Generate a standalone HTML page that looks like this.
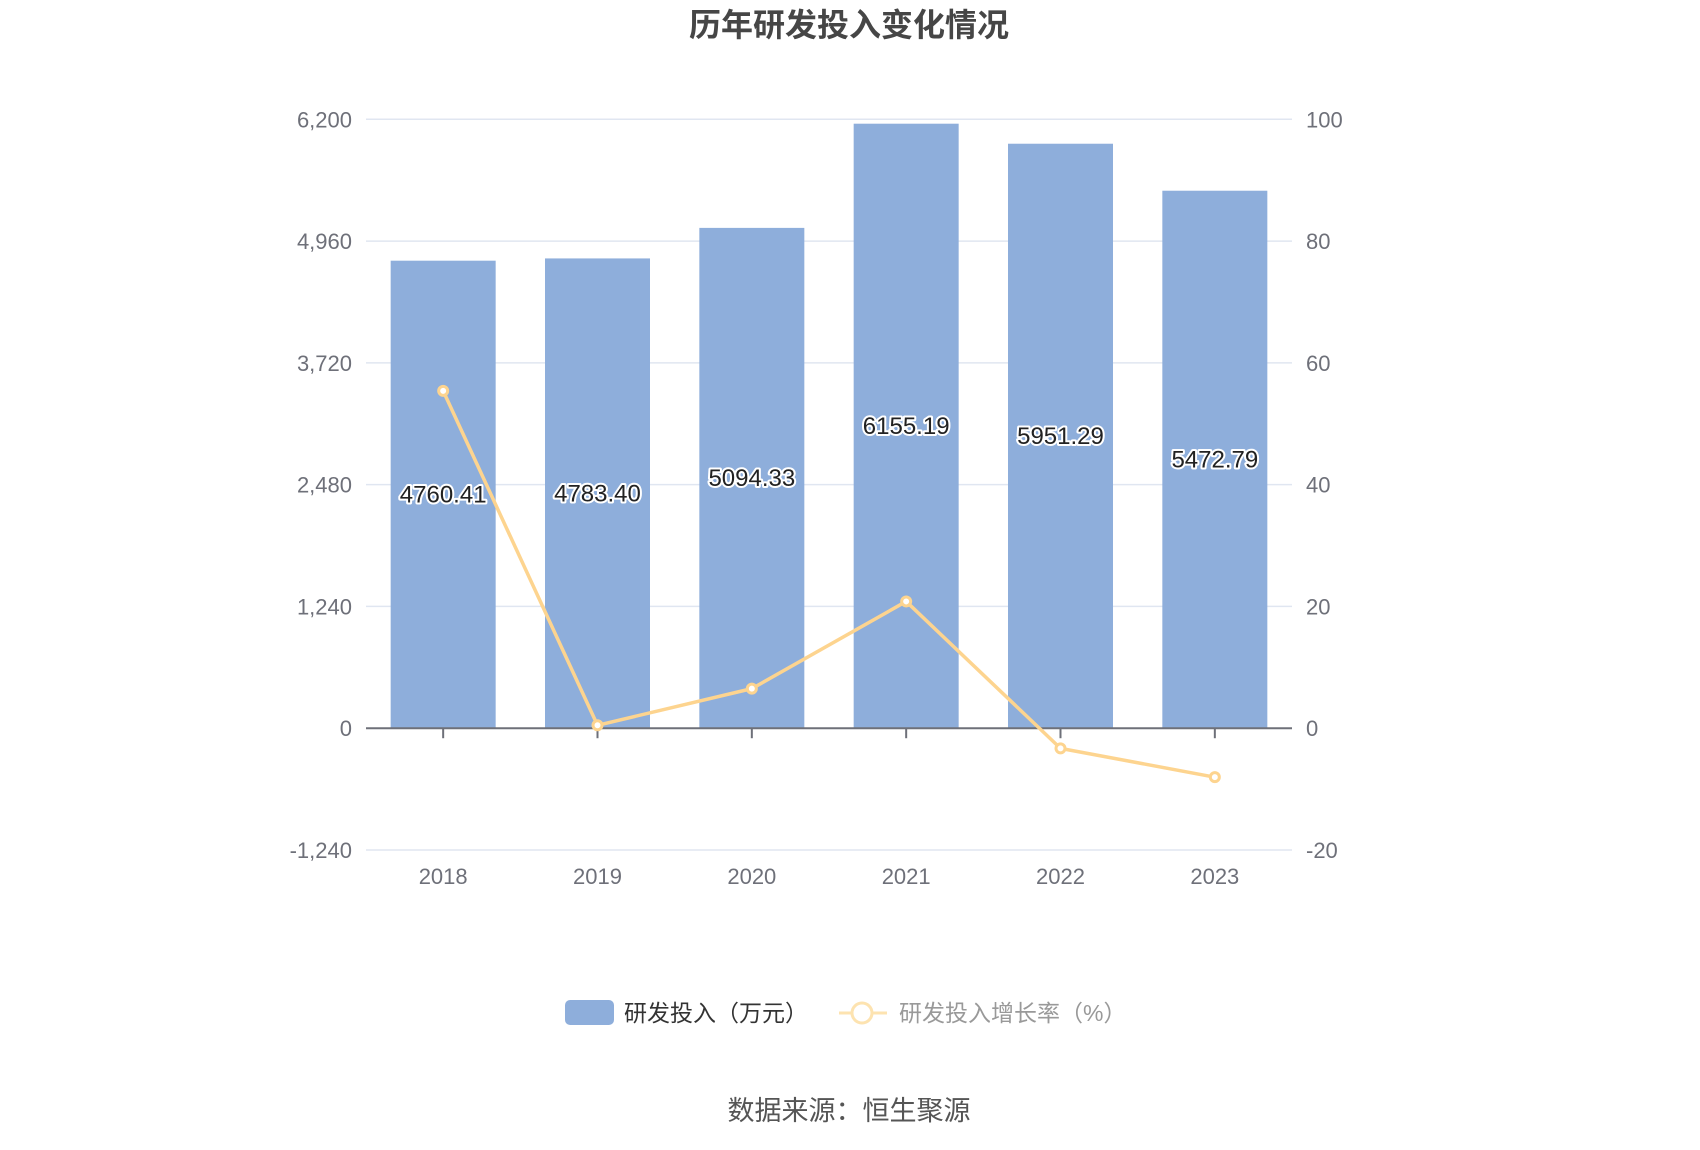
<!DOCTYPE html>
<html><head><meta charset="utf-8"><style>
html,body{margin:0;padding:0;background:#fff;}
svg{display:block;font-family:"Liberation Sans","Noto Sans CJK SC",sans-serif;}
</style></head><body>
<svg id="chart" width="1700" height="1150">
<text x="849" y="36" text-anchor="middle" font-size="32" font-weight="bold" fill="#464646">历年研发投入变化情况</text>
<g id="grid"></g>
<g id="bars"></g>
<g id="axis"></g>
<g id="line"></g>
<g id="labels"></g>
<g>
<g>
<rect x="565" y="1000" width="49" height="25" rx="5" fill="#8eaedb"/>
<text x="624" y="1021" font-size="23" fill="#333">研发投入（万元）</text>
</g>
<g>
<line x1="839" y1="1013" x2="887" y2="1013" stroke="#fde3b0" stroke-width="3"/>
<circle cx="862" cy="1013" r="10" fill="#fff" stroke="#fde3b0" stroke-width="3"/>
<text x="899" y="1021" font-size="23" fill="#999">研发投入增长率（%）</text>
</g>
</g>
<text x="849" y="1120" text-anchor="middle" font-size="27" fill="#555">数据来源：恒生聚源</text>
</svg>
<script>
const categories = ["2018","2019","2020","2021","2022","2023"];
const investment = [4760.41,4783.40,5094.33,6155.19,5951.29,5472.79];
const investmentLabels = ["4760.41","4783.40","5094.33","6155.19","5951.29","5472.79"];
const growth = [55.4,0.48,6.5,20.82,-3.31,-8.04];
const leftTicks = [-1240,0,1240,2480,3720,4960,6200];
const leftTickLabels = ["-1,240","0","1,240","2,480","3,720","4,960","6,200"];
const rightTicks = [-20,0,20,40,60,80,100];
const rightTickLabels = ["-20","0","20","40","60","80","100"];

const NS = "http://www.w3.org/2000/svg";
const L = 366, R = 1292, T = 119.3, B = 850;
const yL = v => B - (v - (-1240)) / (6200 - (-1240)) * (B - T);
const yR = v => B - (v - (-20)) / (100 - (-20)) * (B - T);
const band = (R - L) / categories.length;
const xC = i => L + band * (i + 0.5);
function mk(tag, attrs, parent) {
  const e = document.createElementNS(NS, tag);
  for (const k in attrs) e.setAttribute(k, attrs[k]);
  parent.appendChild(e);
  return e;
}
const grid = document.getElementById('grid');
leftTicks.forEach((v, i) => {
  const y = yL(v);
  if (v !== 0) {
    const gl = mk('line', {x1: L, x2: R, y1: y, y2: y, stroke: '#e0e6f1', 'stroke-width': 1.5}, grid);
    
    
  }
  const t = mk('text', {x: 352, y: y + 8, 'text-anchor': 'end', 'font-size': 22, fill: '#6e7079'}, grid);
  t.textContent = leftTickLabels[i];
  
  
});
rightTicks.forEach((v, i) => {
  const t = mk('text', {x: 1306, y: yR(v) + 8, 'font-size': 22, fill: '#6e7079'}, grid);
  t.textContent = rightTickLabels[i];
  
  
});
const bars = document.getElementById('bars');
const bw = 105;
investment.forEach((v, i) => {
  const y = yL(v);
  const r = mk('rect', {x: xC(i) - bw / 2, y: y, width: bw, height: yL(0) - y, fill: '#8eaedb'}, bars);
  
  
});
const axis = document.getElementById('axis');
const y0 = yL(0);
const al = mk('line', {x1: L, x2: R, y1: y0, y2: y0, stroke: '#6e7079', 'stroke-width': 2}, axis);


categories.forEach((c, i) => {
  const tk = mk('line', {x1: xC(i), x2: xC(i), y1: y0, y2: y0 + 10, stroke: '#6e7079', 'stroke-width': 2}, axis);
  
  
  const t = mk('text', {x: xC(i), y: 884, 'text-anchor': 'middle', 'font-size': 22, fill: '#6e7079'}, axis);
  t.textContent = c;
  
  
});
const line = document.getElementById('line');
const pts = growth.map((v, i) => xC(i) + ',' + yR(v)).join(' ');
const pl = mk('polyline', {points: pts, fill: 'none', stroke: '#fdd48f', 'stroke-width': 3.5, 'stroke-linejoin': 'round'}, line);


growth.forEach((v, i) => {
  const c = mk('circle', {cx: xC(i), cy: yR(v), r: 4.5, fill: '#fff', stroke: '#fdd48f', 'stroke-width': 3}, line);
  
  
});
const labels = document.getElementById('labels');
investment.forEach((v, i) => {
  const y = (yL(v) + yL(0)) / 2;
  const t = mk('text', {x: xC(i), y: y + 8, 'text-anchor': 'middle', 'font-size': 24, fill: '#222', stroke: '#fff', 'stroke-width': 4, 'paint-order': 'stroke', 'stroke-linejoin': 'round'}, labels);
  t.textContent = investmentLabels[i];
  
  
});
</script>
</body></html>
